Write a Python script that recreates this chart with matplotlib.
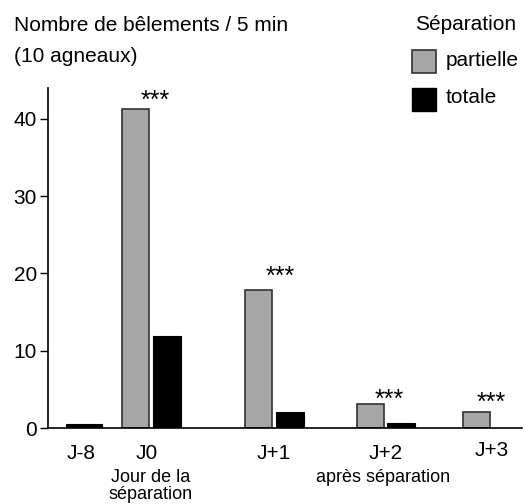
import matplotlib.pyplot as plt
from matplotlib.patches import Rectangle

plt.rcParams['font.family'] = ['Liberation Sans', 'DejaVu Sans']

days = ['J-8', 'J0', 'J+1', 'J+2', 'J+3']
partielle = [None, 41.3, 17.9, 3.05, 2.1]
totale = [0.5, 11.9, 2.1, 0.6, None]
signif = ['', '***', '***', '***', '***']
star_y = [None, 41.4, 18.7, 2.8, 2.4]

GRAY = '#a6a6a6'
# group centres along the x axis (axis units = pixels from the y axis)
centres = [36, 103, 226, 338, 444]
star_x = [None, 107, 232, 341, 443]
bw = 27
off = 15.5

fig = plt.figure(figsize=(5.26, 5.04), dpi=100)
ax = fig.add_axes([48/526, 1-428/504, 474/526, 340/504])

for i, c in enumerate(centres):
    p = partielle[i]
    t = totale[i]
    if p is not None and t is not None:
        ax.bar(c-off, p, bw, color=GRAY, edgecolor='#333333', linewidth=1.2)
        ax.bar(c+off, t, bw+1, color='black', edgecolor='black', linewidth=0.8)
    elif p is not None:
        ax.bar(c-off, p, bw, color=GRAY, edgecolor='#333333', linewidth=1.2)
    else:
        ax.bar(c, t, 36, color='black', edgecolor='black', linewidth=0.8)
    if signif[i]:
        ax.text(star_x[i], star_y[i], signif[i], ha='center', va='baseline',
                fontsize=18)

ax.set_xlim(0, 474)
ax.set_ylim(0, 44)
ax.set_yticks([0, 10, 20, 30, 40])
ax.tick_params(axis='y', labelsize=15, length=6, width=1, pad=2)
ax.set_xticks([])
for s in ['top', 'right']:
    ax.spines[s].set_visible(False)
for s in ['left', 'bottom']:
    ax.spines[s].set_linewidth(1.2)

# day labels
xl = [33, 99, 226, 338, 444]
yl = [-2.07, -2.07, -2.07, -2.07, -1.7]
for x, y, d in zip(xl, yl, days):
    ax.text(x, y, d, ha='center', va='top', fontsize=15)
ax.text(103, -5.37, 'Jour de la\nséparation', ha='center', va='top',
        fontsize=13, linespacing=0.95)
ax.text(335, -5.37, 'après séparation', ha='center', va='top', fontsize=13)

fig.text(14/526, 1-31/504, 'Nombre de bêlements / 5 min', fontsize=15,
         va='baseline')
fig.text(14/526, 1-62/504, '(10 agneaux)', fontsize=15, va='baseline')

# legend
fig.text(415/526, 1-30/504, 'Séparation', fontsize=15, va='baseline')
fig.patches.append(Rectangle((412/526, 1-73/504), 24/526, 23/504,
                             transform=fig.transFigure, facecolor=GRAY,
                             edgecolor='#333333', linewidth=1.2))
fig.patches.append(Rectangle((412/526, 1-111/504), 24/526, 23/504,
                             transform=fig.transFigure, facecolor='black',
                             edgecolor='black'))
fig.text(446/526, 1-66/504, 'partielle', fontsize=15, va='baseline')
fig.text(446/526, 1-103/504, 'totale', fontsize=15, va='baseline')

fig.savefig('out.png', dpi=100)
